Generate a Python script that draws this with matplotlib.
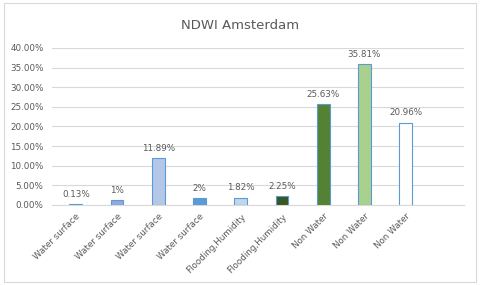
import matplotlib.pyplot as plt
from matplotlib.patches import Rectangle
from matplotlib.ticker import FuncFormatter

# --- Data -------------------------------------------------------------------
categories = ["Water surface", "Water surface", "Water surface", "Water surface",
              "Flooding,Humidity", "Flooding,Humidity", "Non Water", "Non Water",
              "Non Water", ""]
values = [0.0013, 0.012, 0.1189, 0.017, 0.0182, 0.0225, 0.2563, 0.3581, 0.2096]
value_labels = ["0.13%", "1%", "11.89%", "2%", "1.82%", "2.25%",
                "25.63%", "35.81%", "20.96%"]
bar_colors = ["#dae3f3", "#8faadc", "#b4c7e7", "#5b9bd5", "#bdd7ee",
              "#375623", "#548235", "#a9d18e", "#ffffff"]

grey = "#595959"
grid = "#d9d9d9"

fig = plt.figure(figsize=(4.8, 2.85), dpi=100)
fig.patches.append(Rectangle((0.008, 0.012), 0.984, 0.976, transform=fig.transFigure,
                             fill=False, edgecolor=grid, linewidth=0.8))

ax = fig.add_axes([0.108, 0.281, 0.859, 0.551])
x = list(range(len(categories)))
ax.bar(x[:len(values)], values, width=0.31, color=bar_colors,
       edgecolor="#5b9bd5", linewidth=0.8, zorder=3)

for xi, v, lab in zip(x, values, value_labels):
    ax.annotate(lab, (xi, v), xytext=(0, 4), textcoords="offset points",
                ha="center", va="bottom", fontsize=6.3, color=grey)

ax.set_xlim(-0.58, len(categories) - 0.58)
ax.set_ylim(0, 0.40)
ax.set_yticks([i * 0.05 for i in range(9)])
ax.yaxis.set_major_formatter(FuncFormatter(lambda v, _: f"{v * 100:.2f}%"))
ax.set_xticks(x)
ax.set_xticklabels(categories, rotation=45, ha="right", rotation_mode="anchor",
                   fontsize=6.3, color=grey)
ax.tick_params(axis="y", labelsize=6.3, colors=grey, length=0, pad=6)
ax.tick_params(axis="x", length=0, pad=5)
ax.grid(axis="y", color=grid, linewidth=0.8, zorder=0)
for side in ["top", "right", "left"]:
    ax.spines[side].set_visible(False)
ax.spines["bottom"].set_color(grid)

fig.text(0.5, 0.912, "NDWI Amsterdam", ha="center", va="center",
         fontsize=9.5, color=grey)

plt.savefig("out.png", dpi=100)
plt.close()
